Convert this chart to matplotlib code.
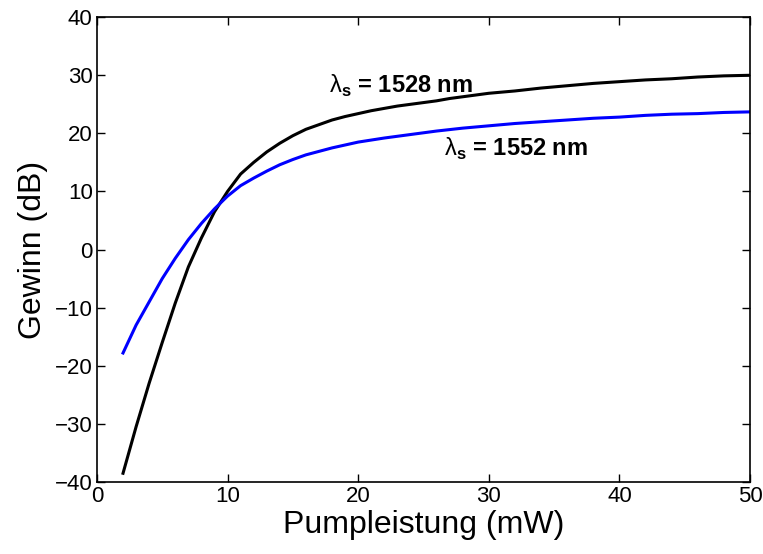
import numpy as np
import matplotlib
matplotlib.use('Agg')
import matplotlib.pyplot as plt

plt.rcParams['font.family'] = ['Liberation Sans', 'DejaVu Sans']
plt.rcParams['mathtext.fontset'] = 'custom'
plt.rcParams['mathtext.rm'] = 'Liberation Sans'
plt.rcParams['mathtext.bf'] = 'Liberation Sans:bold'

# Gewinn vs. Pumpleistung
p_1528 = [2, 3, 4, 5, 6, 7, 8, 9, 10, 11, 12, 13, 14, 15, 16, 17, 18, 19, 20,
          21, 22, 23, 24, 25, 26, 27, 28, 29, 30, 32, 34, 36, 38, 40, 42, 44, 46, 48, 50]
g_1528 = [-38.5, -30.5, -23, -16, -9.2, -3, 2, 6.5, 10, 13, 15, 16.8, 18.3, 19.6, 20.7, 21.5, 22.3, 22.9, 23.4,
          23.9, 24.3, 24.7, 25.0, 25.3, 25.6, 26.0, 26.3, 26.6, 26.9, 27.3, 27.8, 28.2, 28.6, 28.9, 29.2, 29.4, 29.7, 29.9, 30.0]

p_1552 = [2, 3, 4, 5, 6, 7, 8, 9, 10, 11, 12, 13, 14, 15, 16, 17, 18, 19, 20,
          22, 24, 26, 28, 30, 32, 34, 36, 38, 40, 42, 44, 46, 48, 50]
g_1552 = [-17.8, -13, -9, -5, -1.5, 1.7, 4.5, 7, 9.2, 11, 12.3, 13.5, 14.6, 15.5, 16.3, 16.9, 17.5, 18, 18.5,
          19.2, 19.8, 20.4, 20.9, 21.3, 21.7, 22.0, 22.3, 22.6, 22.8, 23.1, 23.3, 23.4, 23.6, 23.7]

fig = plt.figure(figsize=(7.63, 5.54), dpi=100)
ax = fig.add_axes([0.127, 0.130, 0.856, 0.839])

ax.plot(p_1528, g_1528, color='black', lw=2.2)
ax.plot(p_1552, g_1552, color='blue', lw=2.2)

ax.text(17.8, 27.0, r'$\mathrm{\lambda}_{\mathbf{s}}$ = 1528 nm', fontsize=17, fontweight='bold')
ax.text(26.6, 16.2, r'$\mathrm{\lambda}_{\mathbf{s}}$ = 1552 nm', fontsize=17, fontweight='bold')

ax.set_xlim(0, 50)
ax.set_ylim(-40, 40)
ax.set_xticks(np.arange(0, 51, 10))
ax.set_yticks(np.arange(-40, 41, 10))
ax.tick_params(direction='in', top=True, right=True, labelsize=16, length=6, width=1, pad=3)
ax.set_xlabel('Pumpleistung (mW)', fontsize=23, labelpad=2)
ax.set_ylabel('Gewinn (dB)', fontsize=23, labelpad=5)
for s in ax.spines.values():
    s.set_linewidth(1.2)

fig.savefig('out.png', dpi=100)
